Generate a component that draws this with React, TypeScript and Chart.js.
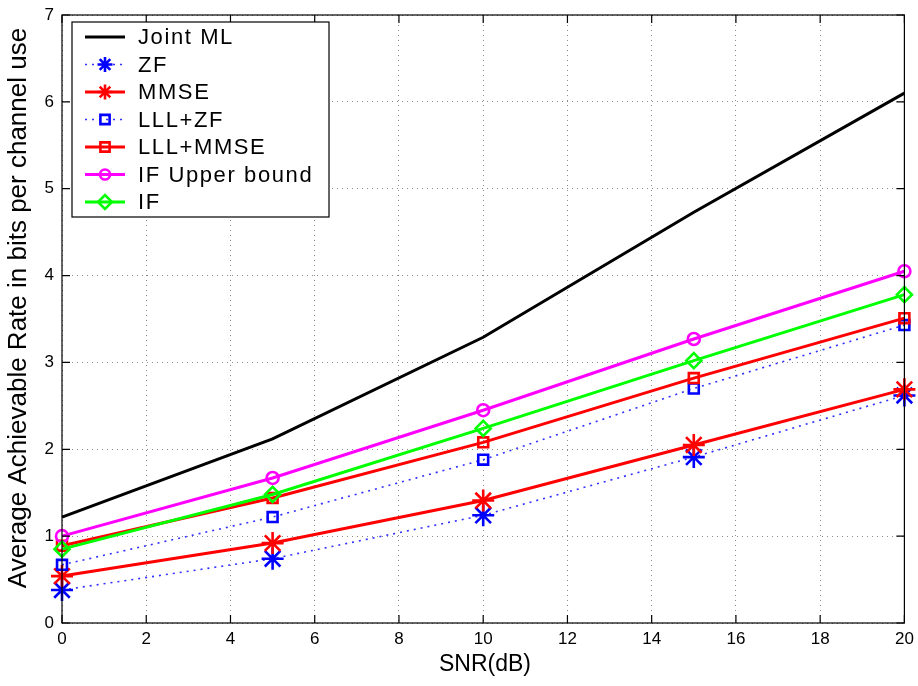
import React, { useEffect, useRef } from 'react';
import { Chart, registerables } from 'chart.js';

Chart.register(...registerables);

const snrDb = [0, 5, 10, 15, 20];
const jointML = [1.22, 2.12, 3.29, 4.73, 6.1];
const zfRate = [0.38, 0.74, 1.24, 1.91, 2.62];
const mmseRate = [0.54, 0.92, 1.41, 2.05, 2.69];
const lllZfRate = [0.67, 1.22, 1.88, 2.7, 3.43];
const lllMmseRate = [0.89, 1.44, 2.08, 2.82, 3.51];
const ifUpperRate = [1.0, 1.67, 2.45, 3.27, 4.05];
const ifRate = [0.85, 1.48, 2.24, 3.02, 3.78];

const seriesNames = ['Joint ML', 'ZF', 'MMSE', 'LLL+ZF', 'LLL+MMSE', 'IF Upper bound', 'IF'];
const seriesValues = [jointML, zfRate, mmseRate, lllZfRate, lllMmseRate, ifUpperRate, ifRate];
const xTitle = 'SNR(dB)';
const yTitle = 'Average Achievable Rate in bits per channel use';
const xTickValues = [0, 2, 4, 6, 8, 10, 12, 14, 16, 18, 20];
const yTickValues = [0, 1, 2, 3, 4, 5, 6, 7];

const FONT = "'Liberation Sans', Arial, Helvetica, sans-serif";

type Style = {
  color: string;
  dash: number[];
  width: number;
  marker: string | false;
  radius: number;
};

const styles: Style[] = [
  { color: '#000000', dash: [], width: 3, marker: false, radius: 0 },
  { color: '#3030ff', dash: [2, 5], width: 1.6, marker: 'star', radius: 11 },
  { color: '#ff0000', dash: [], width: 3, marker: 'star', radius: 11 },
  { color: '#3030ff', dash: [2, 5], width: 1.6, marker: 'rect', radius: 7 },
  { color: '#ff0000', dash: [], width: 3, marker: 'rect', radius: 7 },
  { color: '#ff00ff', dash: [], width: 3, marker: 'circle', radius: 6 },
  { color: '#00ff00', dash: [], width: 3, marker: 'rectRot', radius: 7.5 },
];

const markerColors = ['#000', '#0000ff', '#ff0000', '#0000ff', '#ff0000', '#ff00ff', '#00ff00'];

function drawMarker(ctx: CanvasRenderingContext2D, kind: string, x: number, y: number, r: number, color: string) {
  ctx.save();
  ctx.setLineDash([]);
  ctx.strokeStyle = color;
  ctx.lineWidth = 2.6;
  ctx.beginPath();
  if (kind === 'star') {
    for (let k = 0; k < 4; k++) {
      const a = (k * Math.PI) / 4;
      ctx.moveTo(x - Math.cos(a) * r, y - Math.sin(a) * r);
      ctx.lineTo(x + Math.cos(a) * r, y + Math.sin(a) * r);
    }
  } else if (kind === 'rect') {
    const s = r * Math.SQRT1_2;
    ctx.rect(x - s, y - s, 2 * s, 2 * s);
  } else if (kind === 'circle') {
    ctx.arc(x, y, r, 0, Math.PI * 2);
  } else if (kind === 'rectRot') {
    ctx.moveTo(x - r, y);
    ctx.lineTo(x, y - r);
    ctx.lineTo(x + r, y);
    ctx.lineTo(x, y + r);
    ctx.closePath();
  }
  ctx.stroke();
  ctx.restore();
}

const framePlugin = {
  id: 'matlabFrame',
  afterDraw(chart: any) {
    const { ctx, chartArea, scales } = chart;
    const { left, right, top, bottom } = chartArea;
    ctx.save();
    ctx.strokeStyle = '#000';
    ctx.lineWidth = 1.2;
    ctx.setLineDash([]);
    ctx.strokeRect(left, top, right - left, bottom - top);
    const tl = 8;
    ctx.beginPath();
    xTickValues.forEach((v) => {
      const px = scales.x.getPixelForValue(v);
      ctx.moveTo(px, bottom);
      ctx.lineTo(px, bottom - tl);
      ctx.moveTo(px, top);
      ctx.lineTo(px, top + tl);
    });
    yTickValues.forEach((v) => {
      const py = scales.y.getPixelForValue(v);
      ctx.moveTo(left, py);
      ctx.lineTo(left + tl, py);
      ctx.moveTo(right, py);
      ctx.lineTo(right - tl, py);
    });
    ctx.stroke();

    // legend
    const lx = 72, ly = 22, lw = 257, lh = 195;
    ctx.fillStyle = '#fff';
    ctx.fillRect(lx, ly, lw, lh);
    ctx.strokeStyle = '#000';
    ctx.lineWidth = 1.2;
    ctx.strokeRect(lx, ly, lw, lh);
    ctx.font = `22px ${FONT}`;
    (ctx as any).letterSpacing = '1.6px';
    ctx.textBaseline = 'middle';
    ctx.textAlign = 'left';
    seriesNames.forEach((name, i) => {
      const st = styles[i];
      const yy = 37 + i * 27.5;
      ctx.save();
      ctx.strokeStyle = st.color;
      ctx.lineWidth = st.width;
      ctx.setLineDash(st.dash);
      ctx.beginPath();
      ctx.moveTo(85, yy);
      ctx.lineTo(125, yy);
      ctx.stroke();
      ctx.restore();
      if (st.marker) {
        const r = st.marker === 'star' ? 7.5 : st.marker === 'circle' ? 5 : st.marker === 'rect' ? 6.5 : 7;
        drawMarker(ctx, st.marker as string, 105, yy, r, markerColors[i]);
      }
      ctx.fillStyle = '#000';
      ctx.fillText(name, 138, yy + 1);
    });
    (ctx as any).letterSpacing = '0px';

    // axis titles
    ctx.fillStyle = '#000';
    ctx.font = `23px ${FONT}`;
    ctx.textAlign = 'center';
    ctx.textBaseline = 'middle';
    ctx.fillText(xTitle, 485, 665);
    ctx.save();
    ctx.translate(19, 308);
    ctx.rotate(-Math.PI / 2);
    ctx.font = `26px ${FONT}`;
    ctx.fillText(yTitle, 0, 0);
    ctx.restore();
    ctx.restore();
  },
};

export default function App() {
  const canvasRef = useRef<HTMLCanvasElement | null>(null);

  useEffect(() => {
    document.body.style.margin = '0';
    const canvas = canvasRef.current;
    if (!canvas) return;
    const datasets = seriesNames.map((name, i) => {
      const st = styles[i];
      return {
        label: name,
        data: snrDb.map((x, j) => ({ x, y: seriesValues[i][j] })),
        borderColor: st.color,
        borderWidth: st.width,
        borderDash: st.dash,
        pointStyle: st.marker || 'circle',
        pointRadius: st.marker ? st.radius : 0,
        pointHoverRadius: st.marker ? st.radius : 0,
        pointBorderColor: markerColors[i],
        pointBackgroundColor: 'rgba(0,0,0,0)',
        pointBorderWidth: 2.6,
        fill: false,
        tension: 0,
        clip: false as any,
        order: 10 - i,
      };
    });
    const chart = new Chart(canvas, {
      type: 'line',
      data: { datasets },
      options: {
        animation: false,
        responsive: false,
        devicePixelRatio: 1,
        layout: { padding: { left: 0, right: 12, top: 15, bottom: 0 } },
        plugins: {
          legend: { display: false },
          tooltip: { enabled: false },
        },
        scales: {
          x: {
            type: 'linear',
            min: 0,
            max: 20,
            afterFit: (s: any) => {
              s.height = 63;
              s.paddingLeft = 0;
              s.paddingRight = 0;
            },
            afterBuildTicks: (s: any) => { s.ticks = xTickValues.map((v) => ({ value: v })); },
            ticks: {
              color: '#000',
              font: { family: FONT, size: 17 },
              padding: 6,
              maxRotation: 0,
              autoSkip: false,
            },
            grid: { color: '#8a8a8a', lineWidth: 1, drawTicks: false },
            border: { display: false, dash: [1, 4] },
          },
          y: {
            type: 'linear',
            min: 0,
            max: 7,
            afterFit: (s: any) => {
              s.width = 62;
              s.paddingTop = 0;
              s.paddingBottom = 0;
            },
            afterBuildTicks: (s: any) => { s.ticks = yTickValues.map((v) => ({ value: v })); },
            ticks: {
              color: '#000',
              font: { family: FONT, size: 17 },
              padding: 8,
              autoSkip: false,
            },
            grid: { color: '#8a8a8a', lineWidth: 1, drawTicks: false },
            border: { display: false, dash: [1, 4] },
          },
        },
      },
      plugins: [framePlugin],
    });
    return () => chart.destroy();
  }, []);

  return (
    <div style={{ position: 'absolute', left: 0, top: 0, width: 918, height: 686, background: '#fff' }}>
      <canvas ref={canvasRef} width={918} height={686} style={{ display: 'block' }} />
    </div>
  );
}
